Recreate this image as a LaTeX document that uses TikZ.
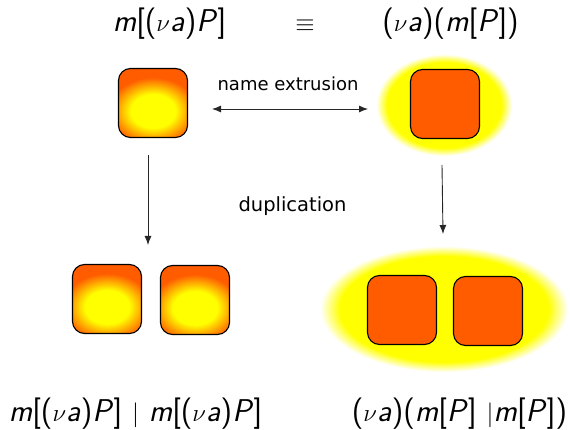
\documentclass[tikz,border=0pt]{standalone}
\usepackage{fontspec}
\newfontfamily\labelfont{DejaVu Sans}
\usetikzlibrary{arrows.meta}
\definecolor{boxorange}{RGB}{255,92,0}
\definecolor{glowyellow}{RGB}{255,255,0}
% soft yellow halo: solid core, fading to white at the rim
% (a shaded path's rim sits at 25bp of a radial shading)
\pgfdeclareradialshading{halo}{\pgfpoint{0bp}{0bp}}{color(0bp)=(glowyellow); color(21bp)=(glowyellow); color(25bp)=(white); color(50bp)=(white)}
% hot core: yellow centre melting into orange well inside the rim
\pgfdeclareradialshading{hotcore}{\pgfpoint{0bp}{0bp}}{color(0bp)=(glowyellow); color(7.5bp)=(glowyellow); color(15bp)=(boxorange); color(50bp)=(boxorange)}
\newcommand{\mi}[1]{\textit{#1}}
\begin{document}
\begin{tikzpicture}[x=1pt,y=-1pt,
  ambient/.style={draw=black, line width=1.1pt, rounded corners=12pt,
    minimum width=69pt, minimum height=69pt, inner sep=0pt, fill=boxorange},
  hotbox/.style={ambient,
    path picture={\shade[shading=hotcore]
      ([yshift=-8pt]path picture bounding box.center)
      ellipse [x radius=74pt, y radius=56pt];}},
  flatbox/.style={ambient},
  formula/.style={font=\sffamily\fontsize{31.5}{36}\selectfont, anchor=base, inner sep=0pt},
  caption/.style={font=\labelfont\fontsize{18}{21}\selectfont, anchor=base, inner sep=0pt},
  link/.style={line width=0.9pt, draw=black!85},
  tip/.style={-{Latex[length=9pt,width=7pt]}}]
\useasboundingbox (0,0) rectangle (570,430);

% halos around the restricted names
\shade[shading=halo] (444,105) ellipse [x radius=68pt, y radius=51pt];
\shade[shading=halo] (444,309) ellipse [x radius=124pt, y radius=63pt];

% ambients
\node[hotbox]  (tl)  at (153,103) {};
\node[flatbox] (tr)  at (445,104) {};
\node[hotbox]  (bl1) at (107,299) {};
\node[hotbox]  (bl2) at (195,300) {};
\node[flatbox] (br1) at (402,310) {};
\node[flatbox] (br2) at (488,311) {};

% formulas
\node[formula] (fl) at (169.5,32) {\mi{m}[($\nu$\mi{a})\mi{P}]};
\node[formula] (eq) at (305,32) {$\equiv$};
\node[formula] (fr) at (450.5,32) {($\nu$\mi{a})(\mi{m}[\mi{P}])};
\node[formula] (gl) at (135.5,421) {\mi{m}[($\nu$\mi{a})\mi{P}] $\mid$ \mi{m}[($\nu$\mi{a})\mi{P}]};
\node[formula] (gr) at (459.5,421) {($\nu$\mi{a})(\mi{m}[\mi{P}] $\mid$\mi{m}[\mi{P}])};

% captions
\node[caption] (ext) at (288,91) {name extrusion};
\node[caption, font=\labelfont\fontsize{19.5}{22}\selectfont] (dup) at (292.5,212) {duplication};

% transitions
\coordinate (xl) at (212,109);
\coordinate (xr) at (368,109);
\coordinate (dl0) at (148,155);
\coordinate (dl1) at (148,245);
\coordinate (dr0) at (442,165);
\coordinate (dr1) at (443,234);
\draw[link, {Latex[length=9pt,width=7pt]}-{Latex[length=9pt,width=7pt]}] (xl) -- (xr);
\draw[link, tip] (dl0) -- (dl1);
\draw[link, tip] (dr0) -- (dr1);
\end{tikzpicture}
\end{document}
